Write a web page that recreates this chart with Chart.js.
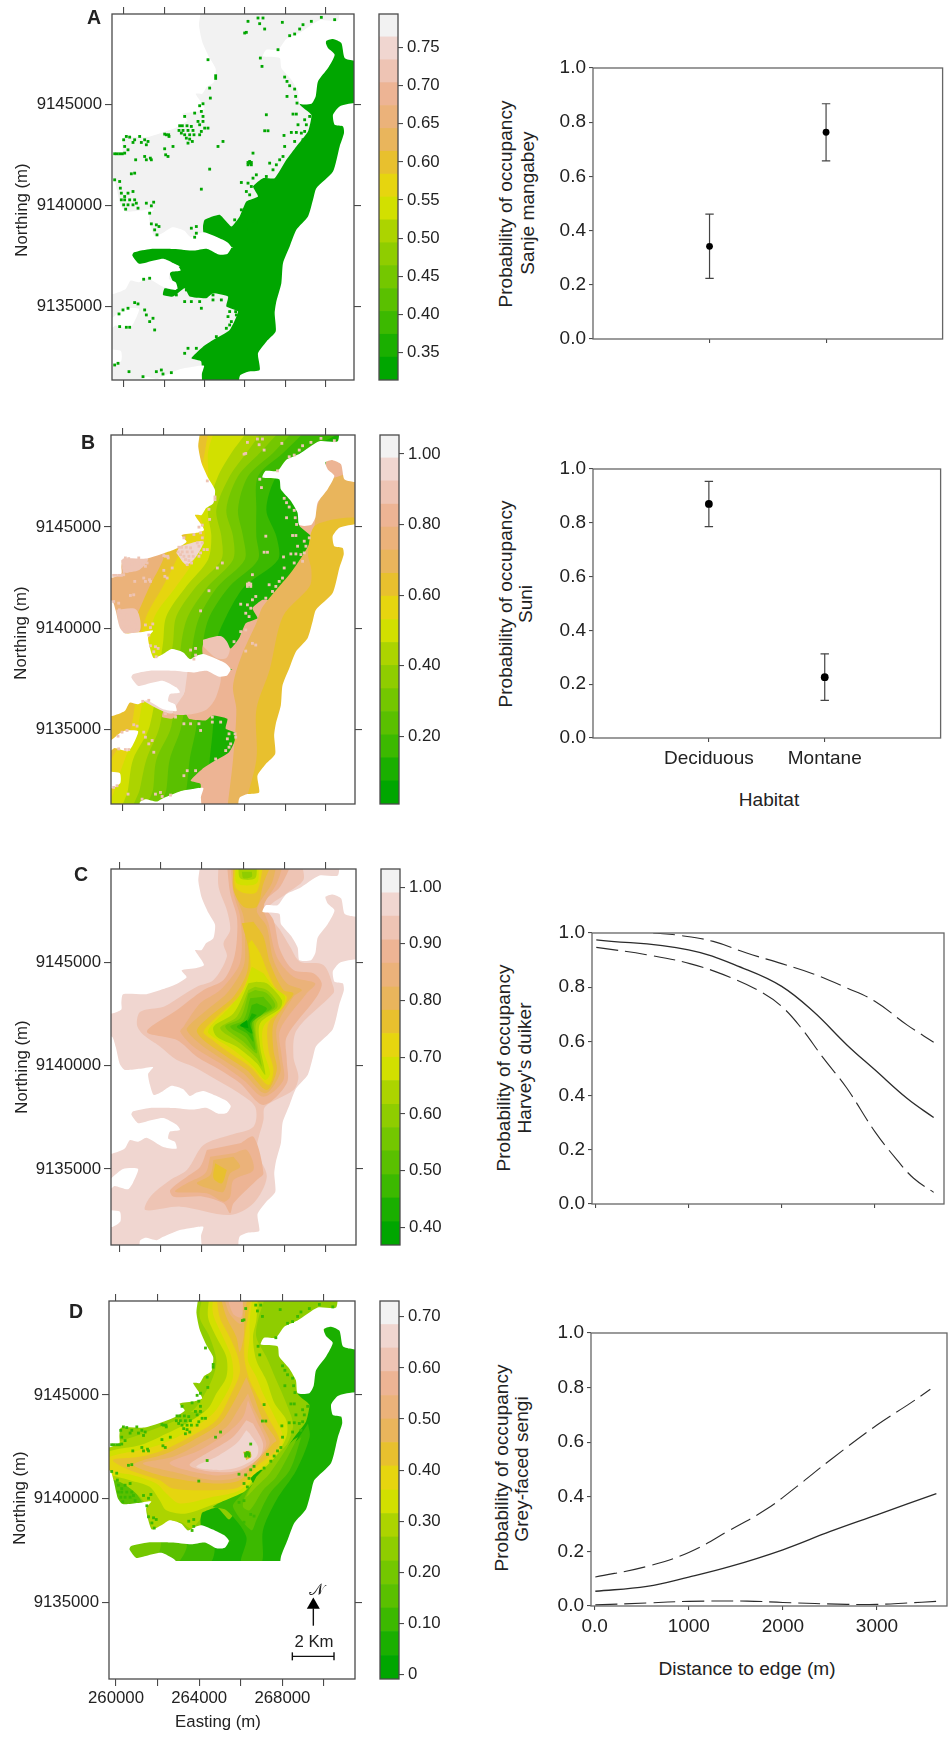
<!DOCTYPE html>
<html>
<head>
<meta charset="utf-8">
<title>Occupancy maps</title>
<script src="https://cdn.jsdelivr.net/npm/chart.js@4/dist/chart.umd.min.js"></script>
<style>
  html, body { margin: 0; padding: 0; background: #fff; }
  #page { position: relative; width: 949px; height: 1741px; overflow: hidden; font-family: 'Liberation Sans', Arial, sans-serif; color: #222; }
  #page canvas { position: absolute; }
  .txt { position: absolute; white-space: nowrap; transform: translate(-50%, -50%); }
  .rot { transform: translate(-50%, -50%) rotate(-90deg); }
</style>
</head>
<body>
<div id="page"></div>
<script>
// colour classes of the map rasters, low to high
const palette = ['#00A600','#1AAF00','#3CB900','#5AC000','#74C700','#8FCD00','#ACD400','#D2E000',
                 '#E6D50F','#E8C02E','#E9B55C','#EBB27A','#EDB494','#EEC4B4','#F0D6D0','#F2F2F2'];

// colour key class breaks and labelled values
const breaksA = [.314,.344,.374,.404,.434,.464,.494,.524,.554,.584,.614,.644,.674,.704,.734,.764,.794];
const breaksB = [.008,.0735,.139,.204,.27,.335,.401,.466,.531,.597,.662,.728,.793,.858,.924,.989,1.054];
const breaksC = [.369,.41,.452,.493,.535,.576,.617,.659,.7,.742,.783,.824,.866,.907,.949,.99,1.032];
const breaksD = [-.009,.037,.084,.13,.176,.222,.269,.315,.361,.408,.454,.5,.546,.593,.639,.685,.731];
const keyTicksA = [.35,.4,.45,.5,.55,.6,.65,.7,.75];
const keyTicksB = [.2,.4,.6,.8,1];
const keyTicksC = [.4,.5,.6,.7,.8,.9,1];
const keyTicksD = [0,.1,.2,.3,.4,.5,.6,.7];

const eastingTicks = [260000,262000,264000,266000,268000,270000];
const eastingLabels = [260000,264000,268000];
const northingTicks = [9135000,9140000,9145000];

// map outlines, digitised as raster grid cells (cell = 1/3 px of the figure, converted to metres below)
const outsideWest = [[300,0],[600,0],[598,77],[608,127],[628,172],[648,207],[643,247],[621,262],[608,282],[588,282],[608,312],[615,327],[593,335],[548,342],[563,362],[533,382],[493,397],[443,412],[373,412],[368,437],[368,457],[340,469],[300,469]];
const outsideBay = [[300,537],[340,537],[351,567],[363,617],[378,635],[423,632],[463,627],[448,647],[453,677],[465,709],[493,697],[518,682],[553,692],[573,712],[593,702],[613,697],[653,712],[683,727],[695,742],[683,762],[658,764],[623,747],[583,752],[523,747],[453,747],[403,757],[398,767],[418,792],[443,787],[493,777],[533,797],[543,812],[513,817],[508,837],[528,847],[533,867],[493,862],[443,835],[418,847],[393,842],[378,867],[340,882],[300,882]];
const outsideHole1 = [[300,985],[340,952],[373,927],[418,927],[403,967],[388,987],[348,977],[337,985]];
const outsideHole2 = [[300,1047],[363,1052],[365,1082],[343,1097],[300,1097]];
const outsideSouth = [[423,1250],[423,1140],[440,1130],[473,1137],[493,1127],[543,1107],[580,1100],[613,1097],[606,1125],[618,1250]];
const outsideEast = [[718,1250],[718,1140],[722,1125],[745,1115],[780,1110],[775,1060],[800,1025],[828,995],[825,940],[830,905],[845,850],[850,790],[870,740],[890,690],[925,650],[940,600],[950,565],[1000,515],[1020,440],[1033,400],[1030,380],[1005,375],[1000,345],[1020,320],[1063,310],[1110,310],[1110,1250]];
const outsideNE = [[1020,0],[1015,62],[960,62],[900,100],[860,118],[835,150],[800,150],[790,170],[840,175],[845,205],[875,240],[895,275],[900,312],[935,312],[948,290],[955,245],[985,205],[1005,165],[985,145],[978,125],[1000,118],[1025,130],[1035,175],[1063,183],[1110,183],[1110,0]];

// lowland zone (the dark green of map A)
const lowland = [[1110,0],[985,110],[975,150],[990,190],[900,312],[935,345],[925,395],[890,440],[860,480],[825,535],[790,535],[760,560],[775,590],[740,605],[720,650],[695,680],[660,645],[615,660],[610,680],[612,700],[660,740],[700,742],[690,745],[400,745],[400,790],[520,790],[540,800],[510,820],[530,870],[495,865],[490,885],[520,890],[555,865],[570,890],[620,895],[640,880],[685,890],[680,920],[715,935],[690,990],[640,1020],[610,1040],[575,1075],[605,1085],[615,1250],[1110,1250]];

// single stray cells of the lowland class
const strayCells = [[745,65],[775,55],[790,55],[740,98],[735,100],[795,88],[848,68],[910,75],[900,88],[885,103],[870,108],[935,65],[965,53],[1005,60],[780,72],
[625,180],[648,228],[648,236],[782,175],[787,200],[835,150],[855,232],[862,245],[870,258],[885,268],[862,290],[888,290],[892,310],
[630,265],[632,295],[610,312],[600,318],[605,335],[585,340],[555,350],[610,350],[595,365],[610,365],
[540,378],[548,378],[562,378],[575,380],[538,392],[550,392],[565,392],[580,392],[545,400],[555,405],[570,405],[583,405],[560,415],[570,418],[578,425],[565,430],[600,375],[605,395],[615,385],[625,385],[600,405],
[500,405],[495,403],[507,405],[508,410],[380,410],[372,420],[390,412],[405,420],[420,410],[400,428],[425,428],[435,420],[445,425],[440,435],[375,440],[385,450],[375,460],[345,462],[352,462],[360,462],[368,462],[408,480],[435,470],[452,475],[440,480],[455,480],[505,470],[498,465],[520,440],[495,447],[655,440],[670,425],
[800,345],[795,393],[805,393],[880,343],[890,343],[853,407],[875,398],[890,398],[905,400],[915,395],[895,375],[920,375],[915,360],[930,350],[910,420],[885,425],
[750,490],[745,495],[755,495],[750,485],[745,488],[755,488],[760,460],[810,490],[855,440],[850,470],[840,480],[830,495],[820,510],[800,530],[770,525],[760,535],[745,550],[725,548],[755,560],[740,575],[750,585],
[630,508],[605,568],[405,520],[395,522],[345,540],[360,545],[362,565],[365,580],[375,590],[385,580],[400,575],[375,600],[390,600],[405,600],[372,615],[385,615],[400,615],[415,625],[378,628],[365,600],[410,610],
[462,607],[455,618],[440,610],[450,640],[455,672],[470,675],[478,680],[465,690],[472,705],[590,680],[575,685],[590,700],[585,712],[740,625],[725,630],[705,660],[760,665],[770,670],[740,688],
[432,838],[450,835],[500,875],[530,885],[555,905],[575,905],[600,905],[605,925],[640,885],[640,900],[665,900],[560,870],[405,908],[385,925],[370,930],[415,912],[358,942],[435,930],[440,945],[460,955],[450,965],[380,982],[390,982],[360,980],[465,990],
[690,935],[685,950],[695,965],[680,985],[690,975],[710,945],[708,935],[565,1045],[590,1045],[555,1060],[650,1010],[345,1095],[355,1090],[388,1115],[470,1115],[485,1110],[490,1122],[430,1130],[515,1118]];

// map B, upland contour lines: grid column of each class boundary at these grid rows
const rowsB = [40,76,130,200,300,380,450,530,620,700,950,1050,1140,1220];
const lineB9 = [590,590,590,590,540,510,490,450,410,370,320,300,280,260];
const lineB8 = [640,625,615,600,570,560,530,490,440,420,395,335,320,300];
const lineB7 = [660,640,625,625,600,615,585,530,465,450,415,375,345,330];
const lineB6 = [760,735,695,655,625,635,625,560,500,490,450,400,385,370];
const lineB5 = [810,780,740,690,650,665,665,590,530,520,480,440,420,400];
const lineB4 = [860,830,780,715,680,700,700,625,565,545,515,470,460,440];
const lineB3 = [900,870,820,745,715,730,735,655,600,580,545,510,500,480];
const lineB2 = [935,905,850,775,770,770,775,690,630,610,590,570,560,540];
const lineB1 = [1040,1010,900,830,800,830,835,735,680,650,640,630,620,600];
// map B, lowland classes
const lowB14 = [[390,770],[565,775],[555,850],[520,910],[480,900],[390,850]];
const lowB13a = [[565,775],[660,790],[650,860],[620,900],[560,915],[520,910],[555,850]];
const lowB13b = [[610,690],[665,680],[690,715],[680,745],[650,745],[610,710]];
const lowB13c = [[350,600],[410,600],[420,665],[360,670]];
const lowB13d = [[365,445],[445,445],[420,480],[370,490]];
const lowB13e = [[540,410],[610,395],[590,440],[560,465],[530,430]];
const lowB10 = [[680,1220],[700,1050],[710,900],[700,830],[725,740],[770,640],[790,590],[880,480],[930,400],[945,345],[950,300],[985,215],[1000,205],[1100,190],[1100,1220]];
const lowB9 = [[725,1220],[770,1050],[770,900],[810,780],[850,620],[930,530],[935,480],[925,430],[950,345],[1100,345],[1100,1220]];

// map C, nested contours
const contC13a = [[655,40],[655,110],[680,180],[690,240],[670,280],[680,320],[640,390],[590,410],[540,440],[490,470],[420,485],[410,525],[430,555],[480,590],[530,630],[580,650],[650,690],[710,725],[765,770],[760,830],[690,855],[610,885],[560,960],[510,990],[450,1040],[435,1080],[540,1070],[690,1095],[760,1060],[800,980],[770,900],[790,810],[795,770],[880,720],[895,680],[880,620],[890,540],[1000,430],[1000,410],[970,345],[900,335],[870,290],[840,240],[800,180],[860,130],[910,90],[905,40]];
const contC12a = [[680,40],[690,130],[710,200],[710,270],[700,330],[670,390],[610,420],[530,480],[440,545],[530,570],[590,620],[660,660],[720,700],[790,765],[860,700],[860,630],[860,560],[950,440],[965,400],[940,370],[880,360],[840,300],[820,210],[790,160],[840,110],[875,40]];
const contC12b = [[620,900],[600,950],[560,980],[510,1020],[520,1040],[610,1040],[670,1060],[690,1090],[700,1060],[770,990],[790,970],[760,860],[720,880]];
const contC11a = [[690,40],[700,130],[720,200],[725,300],[715,350],[660,420],[600,460],[550,530],[540,545],[580,590],[660,640],[730,690],[790,740],[850,690],[845,620],[840,540],[920,430],[945,400],[880,380],[830,320],[805,220],[790,170],[830,100],[850,40]];
const contC11b = [[630,920],[615,970],[560,1000],[525,1025],[620,1030],[670,1055],[690,1040],[700,990],[760,960],[740,900],[700,910]];
const contC10a = [[695,40],[705,130],[730,200],[735,290],[730,350],[680,430],[620,480],[560,535],[570,555],[610,590],[670,630],[730,670],[795,730],[840,670],[835,610],[830,530],[880,440],[905,420],[860,400],[820,330],[800,230],[770,180],[815,100],[830,40]];
const contC10b = [[640,930],[630,975],[590,1000],[640,1020],[670,1025],[690,970],[720,950],[700,920]];
const contC9a = [[700,40],[700,120],[730,170],[770,170],[790,100],[815,40]];
const contC9b = [[725,220],[745,300],[740,370],[700,440],[640,490],[590,540],[610,570],[680,620],[740,660],[800,720],[830,660],[820,600],[820,520],[860,460],[880,430],[850,420],[810,340],[790,260],[760,215]];
const contC9c = [[645,940],[640,985],[665,1000],[680,960]];
const contC8a = [[705,40],[705,110],[735,130],[770,125],[790,40]];
const contC8b = [[745,280],[750,360],[715,440],[650,500],[610,545],[630,565],[690,610],[750,650],[805,705],[820,660],[805,600],[805,520],[850,470],[860,440],[830,420],[800,360],[780,310],[755,270]];
const contC7a = [[707,40],[710,100],[770,100],[775,40]];
const contC7b = [[755,350],[730,420],[690,470],[630,530],[625,550],[700,600],[760,650],[795,690],[810,670],[790,600],[790,530],[840,480],[855,440],[820,410],[790,370]];
const contC6a = [[715,40],[720,85],[765,85],[770,40]];
const contC6b = [[745,400],[700,490],[640,530],[650,560],[710,590],[770,640],[795,675],[790,640],[780,590],[780,520],[840,475],[845,450],[800,400],[770,395]];
const contC5a = [[725,65],[730,85],[755,80],[755,65]];
const contC5b = [[745,420],[710,500],[660,535],[720,580],[770,625],[785,650],[770,570],[770,515],[830,475],[830,455],[800,420],[765,410]];
const contC4 = [[745,430],[720,505],[675,530],[730,575],[770,610],[765,560],[765,510],[825,470],[800,430],[765,420]];
const contC3 = [[750,445],[730,510],[690,530],[735,560],[765,600],[760,550],[760,505],[815,475],[790,440]];
const contC2 = [[755,465],[740,510],[710,530],[740,550],[760,575],[755,520],[790,490],[800,475],[770,460]];
const contC1 = [[755,490],[745,510],[725,525],[745,545],[757,550],[750,520],[770,495]];
const contC0 = [[740,510],[720,527],[745,535]];

// map D, upland contours
const contDw = [[300,575],[370,590],[410,640],[430,680],[340,680],[300,650]];
const contD6 = [[610,40],[600,110],[630,170],[650,240],[640,290],[610,350],[580,390],[530,420],[480,440],[400,470],[340,490],[300,520],[300,580],[370,610],[430,660],[445,700],[460,745],[490,735],[540,725],[575,745],[600,720],[650,680],[700,670],[740,640],[780,590],[840,530],[880,440],[860,370],[830,300],[800,230],[770,170],[775,120],[800,40]];
const contD7 = [[630,40],[625,110],[650,170],[680,230],[680,290],[650,340],[625,385],[560,430],[480,470],[420,495],[340,510],[300,530],[300,570],[390,600],[450,620],[480,660],[500,690],[560,700],[650,670],[720,650],[760,600],[820,540],[860,470],[860,420],[825,370],[800,300],[770,240],[760,170],[770,120],[775,40]];
const contD8 = [[640,40],[640,100],[670,170],[695,230],[700,290],[680,340],[640,400],[570,450],[490,490],[420,510],[330,530],[300,565],[400,585],[470,610],[500,640],[540,670],[640,650],[720,630],[780,570],[840,510],[850,470],[830,420],[790,340],[770,290],[745,240],[750,170],[750,120],[760,40]];
const contD9 = [[650,40],[660,110],[690,170],[715,230],[720,280],[690,350],[650,420],[570,470],[490,510],[420,530],[340,540],[390,570],[480,600],[520,625],[640,630],[720,620],[770,560],[830,510],[840,480],[810,420],[780,360],[750,300],[735,240],[735,170],[745,110],[755,40]];
const contD10a = [[660,40],[680,110],[710,170],[720,215],[732,170],[735,110],[745,40]];
const contD10b = [[740,290],[700,370],[660,430],[580,480],[500,520],[430,540],[400,555],[500,590],[640,610],[720,600],[770,550],[820,490],[830,480],[790,420],[760,340]];
const contD11a = [[670,40],[690,100],[725,130],[730,40]];
const contD11b = [[745,340],[720,380],[680,440],[600,490],[520,530],[430,550],[520,575],[640,600],[720,590],[770,540],[810,490],[790,440],[760,380]];
const contD12a = [[680,40],[700,100],[725,110],[730,40]];
const contD12b = [[745,360],[730,410],[680,460],[600,510],[510,550],[640,585],[720,575],[780,530],[800,490],[770,420]];
const contD13 = [[740,420],[700,470],[620,520],[570,555],[640,575],[720,570],[780,530],[790,490],[760,430]];
const contD14 = [[740,450],[710,490],[650,530],[590,560],[660,570],[720,560],[770,530],[775,500],[750,460]];
const blobD9 = [[730,515],[750,512],[755,530],[740,540]];
const patchD5 = [[530,400],[620,395],[600,430],[560,445]];
// map D, lowland classes and the unmodelled southern block
const lowD2a = [[925,430],[930,470],[890,570],[830,660],[790,750],[785,850],[725,850],[740,770],[680,690],[640,680],[760,620],[880,500]];
const lowD3a = [[905,470],[870,570],[810,640],[770,720],[755,750],[700,680],[720,650],[760,610],[880,490]];
const lowD4a = [[895,470],[830,590],[790,630],[750,690],[730,680],[740,640],[780,590],[880,480]];
const lowD5 = [[880,475],[810,580],[770,620],[740,650],[770,590]];
const lowD2b = [[520,780],[640,790],[630,850],[520,850]];
const lowD3b = [[460,780],[560,790],[530,850],[450,830]];
const lowD4b = [[380,780],[480,780],[470,830],[400,840]];
const noDataD = [[280,843],[1120,843],[1120,1260],[280,1260]];
// scale bar and north arrow of map D
const scaleBarD = [[878,1129],[1003,1129]];
const arrowStemD = [[941,1037],[941,985]];
const arrowHeadD = [[941,975]];

// panels on the right
const habitats = ['Deciduous','Montane'];
const sanjeMean = [.342,.763];
const sanjeLow = [.224,.657];
const sanjeHigh = [.461,.868];
const suniMean = [.870,.226];
const suniLow = [.786,.140];
const suniHigh = [.954,.313];

const duikerMeanX = [10,1000,1624,2000,2340,2700,3000,3344,3631];
const duikerMean = [.975,.938,.865,.803,.71,.587,.495,.39,.319];
const duikerUpX = [620,907,1265,1624,2000,2340,2700,3000,3344,3631];
const duikerUp = [1,.991,.969,.926,.887,.849,.797,.748,.661,.597];
const duikerLowX = [10,548,1014,1444,1803,2000,2197,2448,2700,3000,3237,3416,3631];
const duikerLow = [.947,.92,.887,.837,.778,.729,.655,.538,.427,.267,.163,.095,.043];

const sengiMeanX = [7,556,1000,1442,2000,2504,3000,3631];
const sengiMean = [.054,.072,.106,.145,.206,.273,.334,.412];
const sengiUpX = [7,556,1000,1442,1831,2150,2504,3000,3355,3567];
const sengiUp = [.106,.145,.196,.279,.356,.438,.535,.663,.743,.794];
const sengiLowX = [7,556,1000,1619,2000,2681,3000,3319,3631];
const sengiLow = [.004,.011,.017,.018,.013,.006,.006,.011,.017];

// layout of the figure
const fontName = "'Liberation Sans', Arial, sans-serif";
const inkAxis = '#4a4a4a';
const inkText = '#222';
const page = document.getElementById('page');

// grid frame of each map: plot rect on the page, grid rect, tick calibration, fit to the shared outline
const mapA = { rect:[112,354,14,380],  grid:[337,1063,43,1140], tx:373, dtx:120.8, ty:315, dty:302,   sx:1,     sy:1 };
const mapB = { rect:[111,355,435,804], grid:[334,1066,76,1183], tx:370, dtx:121.8, ty:352, dty:304,   sx:1.003, sy:1.005 };
const mapC = { rect:[111,356,869,1245],grid:[332,1068,57,1185], tx:357, dtx:124,   ty:338, dty:309.5, sx:1.005, sy:1.018 };
const mapD = { rect:[109,355,1301,1679],grid:[328,1066,62,1197],tx:349, dtx:124.8, ty:344, dty:312,   sx:1.005, sy:1.03 };

const toEast = (m, col) => 260000 + (col - m.tx) * 2000 / m.dtx;
const toNorth = (m, row) => 9145000 - (row - m.ty) * 5000 / m.dty;
const own = (m, pts) => pts.map(p => ({ x: toEast(m, p[0]), y: toNorth(m, p[1]) }));
// outline cells are stored on the grid of map A
const shared = (m, pts) => own(m, pts.map(p => [m.grid[0] + (p[0] - 337) * m.sx, m.grid[2] + (p[1] - 43) * m.sy]));

const area = (data, cls, tension = 0.3) => ({ data, backgroundColor: palette[cls], borderWidth: 0, pointRadius: 0, fill: 'shape', tension });
const outside = (data, tension = 0.2) => ({ data, backgroundColor: '#fff', borderWidth: 0, pointRadius: 0, fill: 'shape', tension });
const cells = (data, color) => ({ data, showLine: false, pointStyle: 'rect', pointRadius: 2, pointBorderWidth: 0, pointBackgroundColor: color });

function addCanvas(x, y, w, h) {
  const c = document.createElement('canvas');
  c.width = w; c.height = h;
  c.style.left = x + 'px'; c.style.top = y + 'px';
  c.style.width = w + 'px'; c.style.height = h + 'px';
  page.appendChild(c);
  return c;
}

function addText(text, x, y, size, extra) {
  const d = document.createElement('div');
  d.className = 'txt' + (extra && extra.rot ? ' rot' : '');
  d.textContent = text;
  d.style.left = x + 'px'; d.style.top = y + 'px';
  d.style.fontSize = size + 'px';
  if (extra && extra.bold) d.style.fontWeight = 'bold';
  if (extra && extra.font) d.style.fontFamily = extra.font;
  page.appendChild(d);
}

const framePlugin = {
  id: 'frame',
  afterDraw(chart, args, opts) {
    const a = chart.chartArea, ctx = chart.ctx;
    ctx.save();
    ctx.strokeStyle = opts.color || inkAxis;
    ctx.lineWidth = 1.3;
    ctx.strokeRect(a.left, a.top, a.right - a.left, a.bottom - a.top);
    ctx.restore();
  }
};

// axis with fixed thickness, so the plot rect lands where the figure has it
function axis(pos, size, min, max, tickValues, tickLen, extra) {
  return Object.assign({
    type: 'linear', position: pos, min, max,
    border: { display: false },
    grid: { drawOnChartArea: false, drawTicks: true, tickLength: tickLen, color: inkAxis, lineWidth: 1.1 },
    ticks: { display: false },
    afterBuildTicks(s) { s.ticks = tickValues.map(v => ({ value: v })); },
    afterFit(s) {
      if (s.isHorizontal()) s.height = size; else s.width = size;
      s.paddingTop = s.paddingBottom = s.paddingLeft = s.paddingRight = 0;
    }
  }, extra || {});
}
const labelled = (cb, size, padding) => ({ display: true, color: inkText, font: { family: fontName, size }, padding, autoSkip: false, maxRotation: 0, callback: cb });

function drawMap(m, layers, withEastingLabels) {
  const [l, r, t, b] = m.rect;
  const top = 12, right = 12, bottom = withEastingLabels ? 40 : 12;
  const cv = addCanvas(0, t - top, r + right, b - t + top + bottom);
  const [g0, g1, g2, g3] = m.grid;
  const xMin = toEast(m, g0), xMax = toEast(m, g1), yMax = toNorth(m, g2), yMin = toNorth(m, g3);
  new Chart(cv, {
    type: 'line',
    data: { datasets: layers.slice().reverse() },
    options: {
      responsive: false, animation: false, events: [],
      plugins: { legend: { display: false }, tooltip: { enabled: false }, frame: {} },
      scales: {
        x: axis('bottom', bottom, xMin, xMax, eastingTicks, 7, withEastingLabels ? {
          ticks: labelled((v, i) => eastingLabels.includes(eastingTicks[i]) ? String(eastingTicks[i]) : '', 16.8, 2)
        } : {}),
        x2: axis('top', top, xMin, xMax, eastingTicks, 7),
        y: axis('left', l, yMin, yMax, northingTicks, 7, {
          ticks: labelled((v, i) => String(northingTicks[i]), 16.8, 3)
        }),
        y2: axis('right', right, yMin, yMax, northingTicks, 7)
      }
    },
    plugins: [framePlugin]
  });
}

function drawKey(x0, x1, t, b, breaks, ticks) {
  const left = 4, right = 60, pad = 4;
  const cv = addCanvas(x0 - left, t - pad, x1 - x0 + left + right, b - t + 2 * pad);
  new Chart(cv, {
    type: 'bar',
    data: {
      labels: ['class'],
      datasets: palette.map((c, i) => ({ data: [[breaks[i], breaks[i + 1]]], backgroundColor: c, borderWidth: 0, barPercentage: 1, categoryPercentage: 1, grouped: false }))
    },
    options: {
      responsive: false, animation: false, events: [],
      layout: { padding: { left, top: pad, bottom: pad, right: 0 } },
      plugins: { legend: { display: false }, tooltip: { enabled: false }, frame: {} },
      scales: {
        x: { display: false },
        y: axis('right', right, breaks[0], breaks[16], ticks, 5, {
          ticks: labelled((v, i) => ticks[i] === 0 ? '0' : ticks[i].toFixed(2), 16.8, 4)
        })
      }
    },
    plugins: [framePlugin]
  });
}

function drawPlot(rect, xMin, xMax, xTicks, xLabel, datasets) {
  const [l, r, t, b] = rect;
  const cvLeft = 540, top = 14, right = 2, bottom = xLabel ? 36 : 10;
  const cv = addCanvas(cvLeft, t - top, r - cvLeft + right, b - t + top + bottom);
  new Chart(cv, {
    type: 'line',
    data: { datasets },
    options: {
      responsive: false, animation: false, events: [],
      layout: { padding: { top, right } },
      plugins: { legend: { display: false }, tooltip: { enabled: false }, frame: { color: '#666' } },
      scales: {
        x: axis('bottom', bottom, xMin, xMax, xTicks, 4, xLabel ? { ticks: labelled((v, i) => xLabel[i], 19, 5) } : {}),
        y: axis('left', l - cvLeft, 0, 1, [0,.2,.4,.6,.8,1], 4, { ticks: labelled((v, i) => [0,.2,.4,.6,.8,1][i].toFixed(1), 19, 3) })
      }
    },
    plugins: [framePlugin]
  });
}

const curve = (xs, ys, dash) => ({
  data: xs.map((x, i) => ({ x, y: ys[i] })), borderColor: '#2b2b2b', borderWidth: dash ? 1.1 : 1.3,
  borderDash: dash ? [22, 7] : [], pointRadius: 0, tension: 0.4, fill: false
});
function habitatMarks(mean, low, high, r) {
  const out = mean.map((v, i) => ({ data: [{ x: i + 1, y: v }], showLine: false, pointRadius: r, pointBackgroundColor: '#000', pointBorderWidth: 0 }));
  return out.concat(mean.map((v, i) => ({
    data: [{ x: i + 1, y: low[i] }, { x: i + 1, y: high[i] }], borderColor: '#444', borderWidth: 1.2,
    pointStyle: 'line', pointRadius: 4.2, pointBorderColor: '#444', pointBorderWidth: 1.2
  })));
}

// ---- map layers, painted bottom to top
const plate = [[250,0],[1200,0],[1200,1400],[250,1400]];
const outsideAll = [outsideWest, outsideBay, outsideHole1, outsideHole2, outsideSouth, outsideEast, outsideNE];
const maskFor = m => outsideAll.map(p => outside(shared(m, p)));

const layersA = [area(own(mapA, plate), 15, 0), area(shared(mapA, lowland), 0, 0.15)]
  .concat(maskFor(mapA), [cells(shared(mapA, strayCells), palette[0])]);

const contourPoly = (m, rows, line) => own(m, line.map((x, i) => [x, rows[i]]).concat([[1200, rows[rows.length - 1]], [1200, rows[0]]]));
const layersB = [area(own(mapB, plate), 11, 0)]
  .concat([lineB9, lineB8, lineB7, lineB6, lineB5, lineB4, lineB3, lineB2, lineB1].map((ln, i) => area(contourPoly(mapB, rowsB, ln), 9 - i)))
  .concat([area(own(mapB, lowB13c), 13), area(own(mapB, lowB13d), 13), area(own(mapB, lowB13e), 14)])
  .concat([area(shared(mapB, lowland), 12, 0.15)])
  .concat([area(own(mapB, lowB14), 14), area(own(mapB, lowB13a), 13), area(own(mapB, lowB13b), 13), area(own(mapB, lowB10), 10), area(own(mapB, lowB9), 9)])
  .concat(maskFor(mapB), [cells(shared(mapB, strayCells), palette[13])]);

const ownC = [[contC13a,13],[contC12a,12],[contC12b,12],[contC11a,11],[contC11b,11],[contC10a,10],[contC10b,10],[contC9a,9],[contC9b,9],[contC9c,9],[contC8a,8],[contC8b,8],[contC7a,7],[contC7b,7],[contC6a,6],[contC6b,6],[contC5a,5],[contC5b,5],[contC4,4],[contC3,3],[contC2,2],[contC1,1],[contC0,0]];
const layersC = [area(own(mapC, plate), 14, 0)]
  .concat(ownC.map(p => area(own(mapC, p[0]), p[1])))
  .concat(maskFor(mapC));

const ownD = [[contDw,3],[contD6,6],[patchD5,5],[contD7,7],[contD8,8],[contD9,9],[contD10a,10],[contD10b,10],[contD11a,11],[contD11b,11],[contD12a,12],[contD12b,12],[contD13,13],[contD14,14],[blobD9,9]];
const lowD = [[lowD2a,2],[lowD3a,3],[lowD4a,4],[lowD5,5],[lowD2b,2],[lowD3b,3],[lowD4b,4]];
const layersD = [area(own(mapD, plate), 5, 0)]
  .concat(ownD.map(p => area(own(mapD, p[0]), p[1])))
  .concat([area(shared(mapD, lowland), 1, 0.15)])
  .concat(lowD.map(p => area(own(mapD, p[0]), p[1])))
  .concat(maskFor(mapD), [cells(shared(mapD, strayCells), palette[2])], [outside(own(mapD, noDataD), 0)])
  .concat([
    { data: own(mapD, scaleBarD), borderColor: '#111', borderWidth: 1.4, pointStyle: 'line', pointRotation: 90, pointRadius: 4, pointBorderColor: '#111', pointBorderWidth: 1.4 },
    { data: own(mapD, arrowStemD), borderColor: '#111', borderWidth: 1.4, pointRadius: 0 },
    { data: own(mapD, arrowHeadD), showLine: false, pointStyle: 'triangle', pointRadius: 7.5, pointBackgroundColor: '#000', pointBorderWidth: 0 }
  ]);

drawMap(mapA, layersA, false);
drawMap(mapB, layersB, false);
drawMap(mapC, layersC, false);
drawMap(mapD, layersD, true);

drawKey(379, 398, 14, 380, breaksA, keyTicksA);
drawKey(380, 399, 435, 804, breaksB, keyTicksB);
drawKey(381, 400, 869, 1245, breaksC, keyTicksC);
drawKey(380, 399, 1301, 1679, breaksD, keyTicksD);

drawPlot([593,946,68,339], 0, 3, [1,2], null, habitatMarks(sanjeMean, sanjeLow, sanjeHigh, 3.4));
drawPlot([593,944,469,738], 0, 3, [1,2], habitats, habitatMarks(suniMean, suniLow, suniHigh, 3.9));
drawPlot([592,944,933,1204], -36, 3742, [0,1000,2000,3000], null,
  [curve(duikerMeanX, duikerMean, false), curve(duikerUpX, duikerUp, true), curve(duikerLowX, duikerLow, true)]);
drawPlot([591,947,1333,1606], -39, 3744, [0,1000,2000,3000], ['0.0','1000','2000','3000'],
  [curve(sengiMeanX, sengiMean, false), curve(sengiUpX, sengiUp, true), curve(sengiLowX, sengiLow, true)]);

// ---- text
addText('A', 94, 17, 19.5, { bold: true });
addText('B', 88, 442, 19.5, { bold: true });
addText('C', 81, 874, 19.5, { bold: true });
addText('D', 76, 1311, 19.5, { bold: true });
addText('Northing (m)', 22, 210, 16.8, { rot: true });
addText('Northing (m)', 21, 633, 16.8, { rot: true });
addText('Northing (m)', 22, 1067, 16.8, { rot: true });
addText('Northing (m)', 20, 1498, 16.8, { rot: true });
addText('Easting (m)', 218, 1722, 16.8);
addText('2 Km', 314, 1642, 16.8);
addText('𝒩', 316, 1589, 16, { font: "'DejaVu Sans', serif" });

addText('Probability of occupancy', 506, 204, 19.1, { rot: true });
addText('Sanje mangabey', 528, 203, 19.1, { rot: true });
addText('Probability of occupancy', 506, 604, 19.1, { rot: true });
addText('Suni', 526, 604, 19.1, { rot: true });
addText('Habitat', 769, 800, 19.1);
addText('Probability of occupancy', 504, 1068, 19.1, { rot: true });
addText("Harvey's duiker", 525, 1068, 19.1, { rot: true });
addText('Probability of occupancy', 502, 1468, 19.1, { rot: true });
addText('Grey-faced sengi', 522, 1469, 19.1, { rot: true });
addText('Distance to edge (m)', 747, 1669, 19.1);
</script>
</body>
</html>
